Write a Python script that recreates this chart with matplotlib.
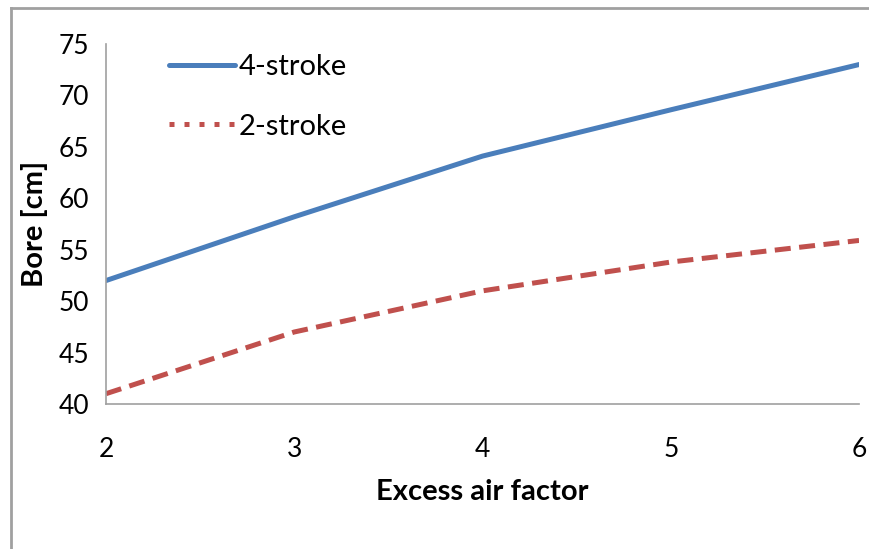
import matplotlib
matplotlib.use("Agg")
import matplotlib.pyplot as plt
from matplotlib.lines import Line2D

plt.rcParams["font.family"] = ["Lato", "DejaVu Sans"]

excess_air = [2, 3, 4, 5, 6]
bore_4stroke = [52, 58.2, 64.1, 68.6, 73]
bore_2stroke = [41, 47, 51, 53.8, 55.9]

BLUE = "#4a7ebb"
RED = "#c0504d"
GREY = "#a0a0a0"

fig = plt.figure(figsize=(8.7, 5.49), dpi=100)
ax = fig.add_axes([0.1218, 0.2641, 0.8656, 0.6558])

ax.plot(excess_air, bore_4stroke, color=BLUE, linewidth=3.6, solid_capstyle="round")
ax.plot(excess_air, bore_2stroke, color=RED, linewidth=3.6,
        dashes=(3.2, 1.7), dash_capstyle="butt")

ax.set_xlim(2, 6)
ax.set_ylim(40, 75)
ax.set_xticks(excess_air)
ax.set_yticks(range(40, 76, 5))
ax.tick_params(length=0, labelsize=19, colors="black")
ax.tick_params(axis="x", pad=24)
ax.tick_params(axis="y", pad=12)
for side in ["top", "right"]:
    ax.spines[side].set_visible(False)
for side in ["left", "bottom"]:
    ax.spines[side].set_color(GREY)
    ax.spines[side].set_linewidth(1.2)

ax.set_xlabel("Excess air factor", fontsize=21, fontweight="bold", labelpad=12)
ax.set_ylabel("Bore [cm]", fontsize=21, fontweight="bold", labelpad=8)

handles = [
    Line2D([], [], color=BLUE, linewidth=3.6, solid_capstyle="round"),
    Line2D([], [], color=RED, linewidth=3.6, dashes=(1.0, 2.0), dash_capstyle="butt"),
]
ax.legend(handles, ["4-stroke", "2-stroke"], loc="upper left",
          bbox_to_anchor=(0.049, 1.045), frameon=False, fontsize=21,
          handlelength=2.25, handletextpad=0.15, labelspacing=1.15)

# outer chart border (clipped on the right and bottom in the original)
fig.add_artist(Line2D([11 / 870, 1.0], [1 - 8 / 549, 1 - 8 / 549],
                      transform=fig.transFigure, color=GREY, linewidth=2))
fig.add_artist(Line2D([11 / 870, 11 / 870], [0.0, 1 - 8 / 549],
                      transform=fig.transFigure, color=GREY, linewidth=2))

fig.savefig("out.png", dpi=100)
